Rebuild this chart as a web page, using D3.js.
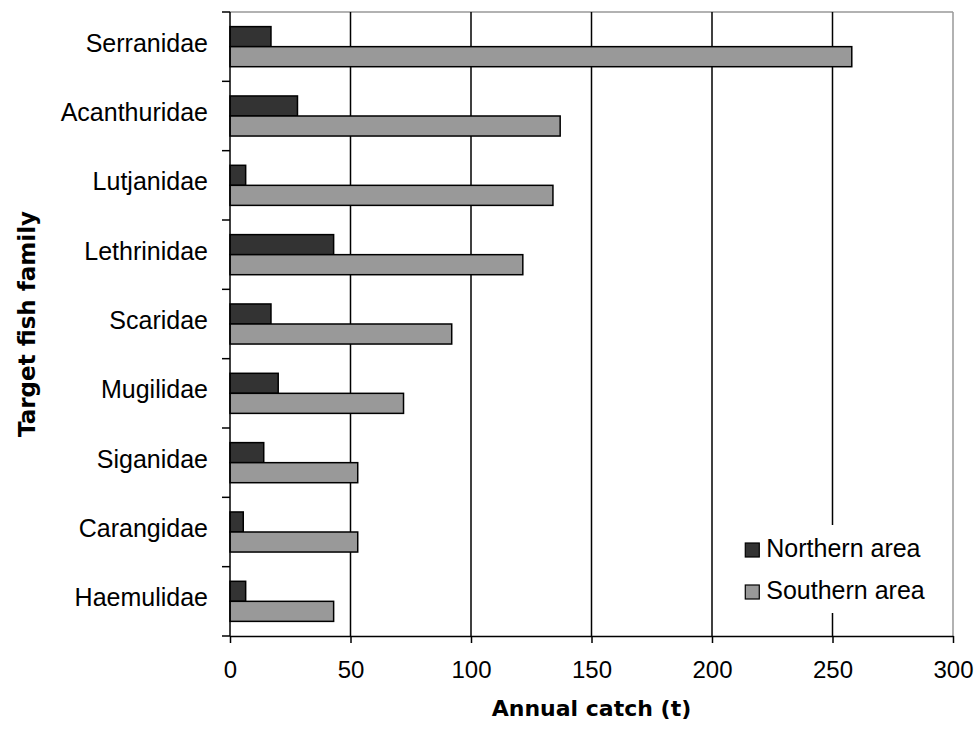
<!DOCTYPE html>
<html>
<head>
<meta charset="utf-8">
<script src="https://cdn.jsdelivr.net/npm/d3@7"></script>
<style>
  body { margin: 0; background: #fff; }
  .tick text { font-family: "Liberation Sans", Arial, sans-serif; font-size: 24px; fill: #000; }
  .y-labels .tick text { font-size: 25px; }
  .title { font-family: "DejaVu Sans", Verdana, sans-serif; font-weight: bold; font-size: 22px; }
  .legend text { font-family: "Liberation Sans", Arial, sans-serif; font-size: 25px; }
</style>
</head>
<body>
<div id="chart"></div>
<script>
// Data
var families = ["Serranidae", "Acanthuridae", "Lutjanidae", "Lethrinidae", "Scaridae",
                "Mugilidae", "Siganidae", "Carangidae", "Haemulidae"];
var northern = [17, 28, 6.5, 43, 17, 20, 14, 5.5, 6.5];
var southern = [258, 137, 134, 121.5, 92, 72, 53, 53, 43];
var seriesNames = ["Northern area", "Southern area"];
var xTicks = [0, 50, 100, 150, 200, 250, 300];

var svgWidth = 975;
var svgHeight = 733;
var margin = { top: 12, right: 22, bottom: 97, left: 230 };
var width = svgWidth - margin.left - margin.right;
var height = svgHeight - margin.top - margin.bottom;

var colors = { "Northern area": "#333333", "Southern area": "#999999" };

var rows = families.map((f, i) => ({
    family: f,
    values: [
        { key: seriesNames[0], value: northern[i] },
        { key: seriesNames[1], value: southern[i] }
    ]
}));

var svg = d3.select("#chart")
    .append("svg")
    .attr("width", svgWidth)
    .attr("height", svgHeight);

var chartGroup = svg.append("g")
    .attr("transform", `translate(${margin.left}, ${margin.top})`);

// scales
var xScale = d3.scaleLinear().domain([0, 300]).range([0, width]);
var y0 = d3.scaleBand().domain(families).range([0, height]).padding(0);
var y1 = d3.scaleBand().domain(seriesNames).range([0, y0.bandwidth()])
    .paddingInner(0).paddingOuter(0.73);

// plot area border (top and right, grey)
chartGroup.append("line")
    .attr("x1", 0).attr("x2", width).attr("y1", 0).attr("y2", 0)
    .attr("stroke", "#999").attr("stroke-width", 1.5);
chartGroup.append("line")
    .attr("x1", width).attr("x2", width).attr("y1", 0).attr("y2", height)
    .attr("stroke", "#999").attr("stroke-width", 1.5);

// vertical gridlines
chartGroup.append("g").selectAll("line")
    .data(xTicks.filter(d => d > 0 && d < 300))
    .enter()
    .append("line")
    .attr("x1", d => xScale(d)).attr("x2", d => xScale(d))
    .attr("y1", 0).attr("y2", height)
    .attr("stroke", "#000").attr("stroke-width", 1.5);

// legend box (white, covers gridline)
var legend = chartGroup.append("g").classed("legend", true)
    .attr("transform", `translate(${xScale(208)}, ${height - 111})`);
legend.append("rect")
    .attr("width", 212).attr("height", 88)
    .attr("fill", "#fff");
seriesNames.forEach((s, i) => {
    var row = legend.append("g").attr("transform", `translate(14, ${18 + i * 42})`);
    row.append("rect")
        .attr("width", 14).attr("height", 14)
        .attr("fill", colors[s]).attr("stroke", "#000").attr("stroke-width", 1.2);
    row.append("text")
        .attr("x", 21).attr("y", 14)
        .text(s);
});

// bars
var groups = chartGroup.append("g").selectAll("g")
    .data(rows)
    .enter()
    .append("g")
    .attr("transform", d => `translate(0, ${y0(d.family)})`);

groups.selectAll("rect")
    .data(d => d.values)
    .enter()
    .append("rect")
    .attr("x", 0)
    .attr("y", d => y1(d.key))
    .attr("width", d => xScale(d.value))
    .attr("height", y1.bandwidth())
    .attr("fill", d => colors[d.key])
    .attr("stroke", "#000")
    .attr("stroke-width", 1.5);

// x axis
var xAxis = chartGroup.append("g")
    .attr("transform", `translate(0, ${height})`)
    .call(d3.axisBottom(xScale).tickValues(xTicks).tickSize(7).tickPadding(18).tickSizeOuter(0));
xAxis.select(".domain").attr("stroke-width", 1.5);
xAxis.selectAll(".tick line").attr("stroke-width", 1.5);

// y axis labels (ticks at band boundaries drawn separately)
var yAxis = chartGroup.append("g").classed("y-labels", true)
    .call(d3.axisLeft(y0).tickSize(0).tickPadding(22));
yAxis.select(".domain").remove();
yAxis.selectAll(".tick text").attr("dy", "0.2em");

chartGroup.append("line")
    .attr("x1", 0).attr("x2", 0).attr("y1", 0).attr("y2", height)
    .attr("stroke", "#000").attr("stroke-width", 1.5);
chartGroup.append("g").selectAll("line")
    .data(families.map(f => y0(f)).concat([height]))
    .enter()
    .append("line")
    .attr("x1", -8).attr("x2", 0)
    .attr("y1", d => d).attr("y2", d => d)
    .attr("stroke", "#000").attr("stroke-width", 1.5);

// axis titles
chartGroup.append("text")
    .classed("title", true)
    .attr("x", width / 2)
    .attr("y", height + 80)
    .attr("text-anchor", "middle")
    .text("Annual catch (t)");

chartGroup.append("text")
    .classed("title", true)
    .attr("transform", "rotate(-90)")
    .attr("x", -height / 2)
    .attr("y", -margin.left + 35)
    .attr("text-anchor", "middle")
    .style("font-size", "23px")
    .text("Target fish family");
</script>
</body>
</html>
